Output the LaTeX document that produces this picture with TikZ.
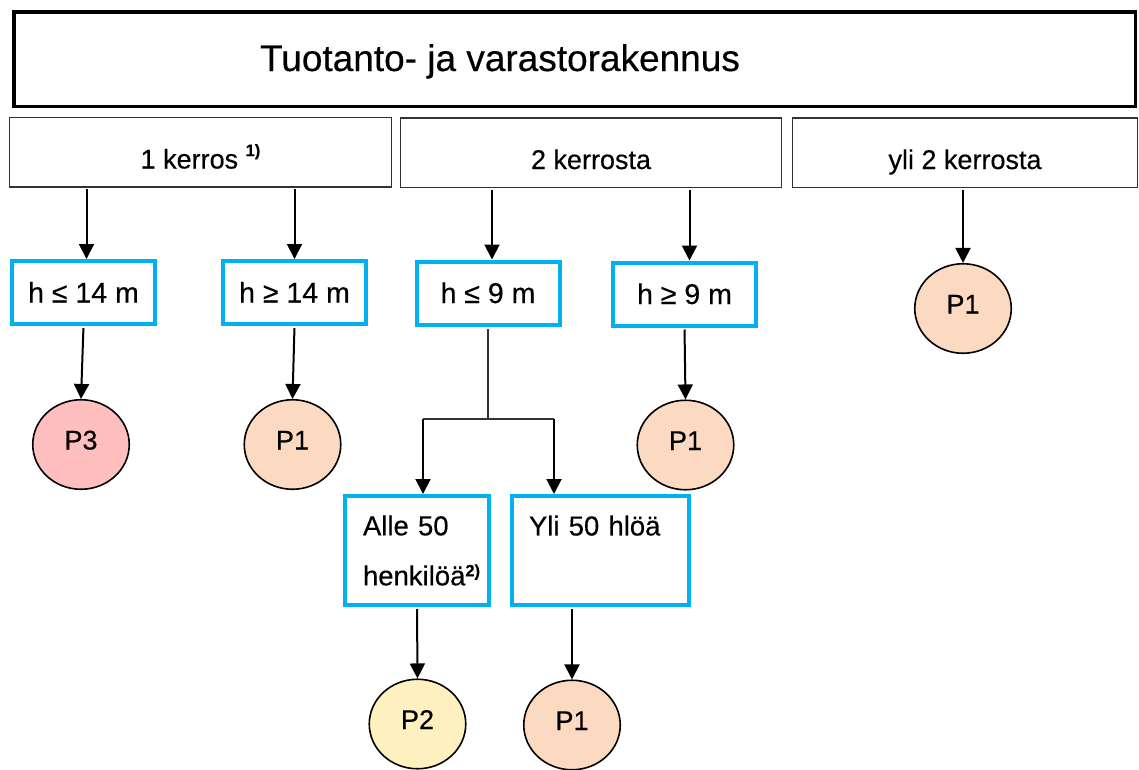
\documentclass[tikz,border=0pt]{standalone}
\usepackage{fontspec}
\setmainfont{Liberation Sans}[FakeBold=0.35]
\usetikzlibrary{arrows.meta,shapes.geometric}

\definecolor{boxblue}{RGB}{0,176,240}
\definecolor{classthree}{RGB}{255,191,191}
\definecolor{classone}{RGB}{252,217,193}
\definecolor{classtwo}{RGB}{255,241,191}
\definecolor{framegray}{RGB}{50,50,50}

% raised footnote mark: #1 = lift above the baseline, #2 = mark
\newcommand{\notemark}[2]{\raisebox{#1}{\fontsize{16.5}{16.5}\selectfont\bfseries #2}}

\begin{document}
\begin{tikzpicture}[x=1pt,y=-1pt,
  font=\fontsize{27}{32}\selectfont,
  headbox/.style={draw=black,line width=3.5pt,minimum width=1121.5pt,minimum height=94.5pt,
    inner sep=0pt,text height=24pt,text depth=0pt,font=\fontsize{37}{44}\selectfont},
  floorbox/.style={draw=framegray,line width=1.5pt,inner sep=0pt,minimum height=69.5pt,
    text height=33pt,text depth=0pt},
  condbox/.style={draw=boxblue,fill=white,line width=4pt,inner sep=0pt,minimum width=143pt,
    minimum height=63pt,text height=20pt,text depth=0pt,font=\fontsize{28.5}{32}\selectfont},
  groupbox/.style={draw=boxblue,fill=white,line width=4pt,minimum height=109pt,inner ysep=0pt,
    align=left,font=\fontsize{27.5}{50}\selectfont},
  classnode/.style={ellipse,draw=black,line width=1.6pt,minimum width=96.5pt,minimum height=89.5pt,
    inner sep=0pt,text height=19pt,text depth=9pt},
  arr/.style={-{Triangle[width=15pt,length=15pt]},line width=2pt,shorten <=1.5pt},
  joinline/.style={draw=framegray,line width=1.3pt},
]
\fill[white] (0,0) rectangle (1139,769);
\useasboundingbox (0,0) rectangle (1139,769);

% building type
\node[headbox] (title) at (574.5,59) {Tuotanto- ja varastorakennus\kern149pt};

% number of storeys
\node[floorbox,minimum width=381.6pt] (one)   at (200.5,152)  {1 kerros \notemark{12.5pt}{1)}};
\node[floorbox,minimum width=380.6pt] (two)   at (591,152.5)  {2 kerrosta};
\node[floorbox,minimum width=344.6pt] (three) at (965,152.5)  {yli 2 kerrosta};

% height conditions
\node[condbox] (hle14) at (83.5,292.5) {h ≤ 14 m};
\node[condbox] (hge14) at (294.5,292.5) {h ≥ 14 m};
\node[condbox] (hle9)  at (488,293)    {h ≤ 9 m};
\node[condbox] (hge9)  at (684.5,294)  {h ≥ 9 m};

% occupant count
\node[groupbox,inner xsep=18pt,text width=108pt] (under50) at (417,550.5)
  {Alle 50\\henkilöä\rlap{\notemark{9pt}{2)}}};
\node[groupbox,inner xsep=17pt,text width=143pt] (over50) at (600.5,550.5)
  {Yli 50 hlöä\\\mbox{}};

% fire classes
\node[classnode,fill=classthree] (pA) at (81,444.5)    {P3};
\node[classnode,fill=classone]   (pB) at (292.5,444.5) {P1};
\node[classnode,fill=classone]   (pC) at (685.5,445)   {P1};
\node[classnode,fill=classone]   (pD) at (963,308.5)   {P1};
\node[classnode,fill=classtwo]   (pE) at (417.5,724)   {P2};
\node[classnode,fill=classone]   (pF) at (572,725)     {P1};

% branch point below h <= 9 m
\coordinate (forkmid) at (488,419);
\coordinate (forkL)   at (423,419);
\coordinate (forkR)   at (554,419);

% connectors
\draw[arr] ([xshift=3pt]hle14.north |- one.south) -- ([xshift=3pt]hle14.north);
\draw[arr] (hge14.north |- one.south) -- (hge14.north);
\draw[arr] ([xshift=4pt]hle9.north |- two.south) -- ([xshift=4pt]hle9.north);
\draw[arr] ([xshift=5pt]hge9.north |- two.south) -- ([xshift=5pt]hge9.north);
\draw[arr] (pD.north |- three.south) -- (pD.north);

\draw[arr,shorten <=2pt] (hle14.south) -- (pA.north);
\draw[arr,shorten <=2pt] (hge14.south) -- (pB.north);
\draw[arr,shorten <=2pt] (hge9.south) -- (pC.north);

\draw[joinline,shorten <=2pt] (hle9.south) -- (forkmid);
\draw[joinline] (forkL) -- (forkR);
\draw[arr,shorten <=0pt] (forkL) -- (forkL |- under50.north);
\draw[arr,shorten <=0pt] (forkR) -- (forkR |- over50.north);

\draw[arr,shorten <=2pt] (under50.south) -- (pE.north);
\draw[arr,shorten <=2pt] (pF.north |- over50.south) -- (pF.north);
\end{tikzpicture}
\end{document}
